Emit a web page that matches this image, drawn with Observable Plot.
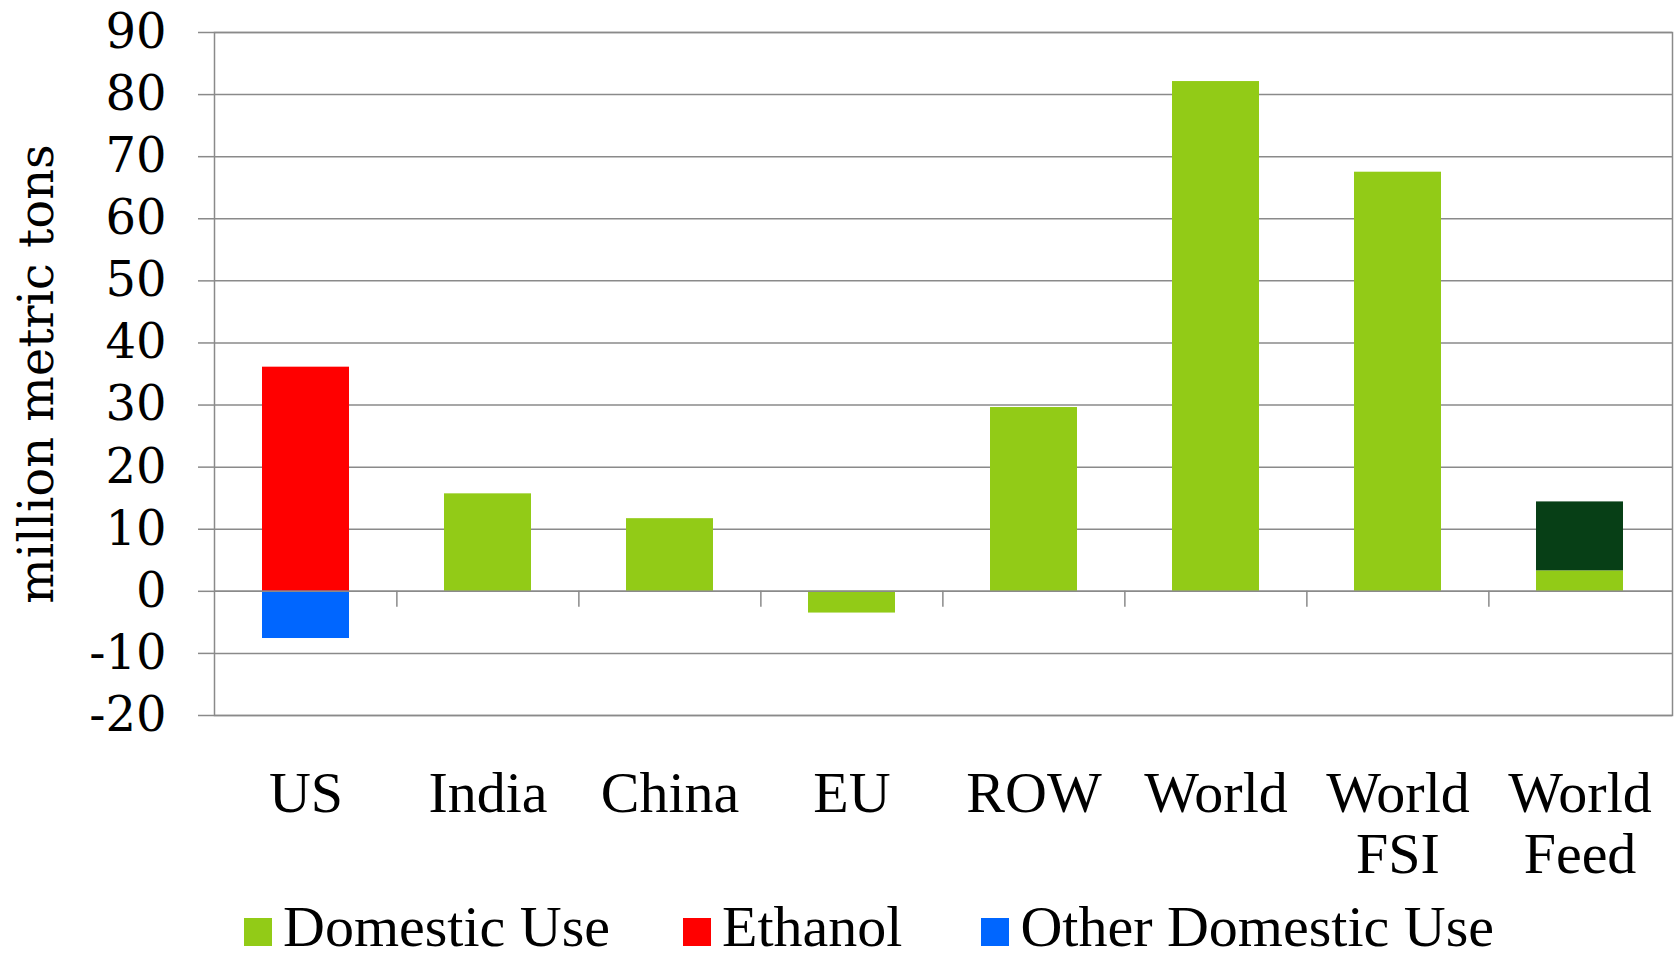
<!DOCTYPE html>
<html>
<head>
<meta charset="utf-8">
<script src="https://cdn.jsdelivr.net/npm/d3@7"></script>
<script src="https://cdn.jsdelivr.net/npm/@observablehq/plot@0.6"></script>
<style>
  html, body { margin: 0; padding: 0; background: #fff; overflow: hidden; }
  #chart { width: 1677px; height: 954px; position: relative; overflow: hidden; }
  .legend {
    display: flex; align-items: baseline;
    font-family: "Liberation Serif", serif; font-size: 58px; line-height: 58px;
    padding-left: 244px; white-space: nowrap; color: #000;
  }
  .legend .item { display: flex; align-items: baseline; margin-right: 73px; }
  .legend .item:nth-child(2) { margin-right: 79px; }
  .legend .sw { display: inline-block; width: 28px; height: 28px; margin-right: 11px; }
</style>
</head>
<body>
<div id="chart"></div>
<script>
// Regions / aggregates along the x axis
const categories = ["US", "India", "China", "EU", "ROW", "World", "World FSI", "World Feed"];

// Change in use, million metric tons (null = no bar)
const domesticUse      = [null, 15.7, 11.7, -3.5, 29.6, 82.1, 67.5, 3.3];
const ethanol          = [36.1, null, null, null, null, null, null, null];
const otherDomesticUse = [-7.6, null, null, null, null, null, null, null];
const feedUse          = [null, null, null, null, null, null, null, 11.1];

const seriesNames  = ["Domestic Use", "Ethanol", "Other Domestic Use", "Feed"];
const seriesValues = [domesticUse, ethanol, otherDomesticUse, feedUse];
const seriesColors = ["#92cb17", "#ff0000", "#0066ff", "#073f16"];
const legendNames  = ["Domestic Use", "Ethanol", "Other Domestic Use"];

const yTicks = [-20, -10, 0, 10, 20, 30, 40, 50, 60, 70, 80, 90];

// Long table for the stacked bars
const rows = seriesNames.flatMap((name, s) =>
  categories.map((cat, i) => ({category: cat, series: name, value: seriesValues[s][i]}))
).filter(d => d.value != null);

const W = 1677, H = 898;
const marginLeft = 214, marginRight = 5, marginTop = 32, marginBottom = 183;
const step = (W - marginLeft - marginRight) / categories.length;
const gray = "#8a8a8a";

const chart = Plot.plot({
  width: W,
  height: H,
  marginLeft, marginRight, marginTop, marginBottom,
  style: {fontFamily: "'DejaVu Serif', serif", fontSize: "48px", color: "#000", background: "#fff"},
  x: {domain: categories, paddingInner: 0.52, paddingOuter: 0.26},
  y: {domain: [-20, 90]},
  color: {domain: seriesNames, range: seriesColors},
  marks: [
    Plot.gridY(yTicks, {stroke: gray, strokeOpacity: 1, strokeWidth: 1.5}),
    Plot.barY(rows, {x: "category", y: "value", fill: "series"}),
    Plot.ruleY([0], {stroke: gray, strokeWidth: 1.5}),
    // category separators hanging below the zero line
    Plot.ruleX(categories.slice(1), {x: d => d, y1: 0, y2: 0, dx: -step / 2, insetBottom: -16, stroke: gray, strokeWidth: 1.5}),
    Plot.axisY(yTicks, {
      tickSize: 16, tickPadding: 32, stroke: gray, strokeWidth: 1.5,
      tickFormat: d => String(d),
      fontSize: 48, fontFamily: "DejaVu Serif",
      label: "million metric tons", labelAnchor: "center", labelArrow: "none", labelOffset: 196
    }),
    Plot.axisX({
      tickSize: 0, tickPadding: 54,
      tickFormat: d => d.replace(" ", "\n"),
      fontSize: 58, fontFamily: "Liberation Serif", lineHeight: 1.04,
      label: null
    }),
    Plot.frame({stroke: gray, strokeWidth: 1.5})
  ]
});

const root = document.getElementById("chart");
root.appendChild(chart);

// Legend below the plot
const legend = document.createElement("div");
legend.className = "legend";
legendNames.forEach(name => {
  const item = document.createElement("span");
  item.className = "item";
  const sw = document.createElement("span");
  sw.className = "sw";
  sw.style.background = seriesColors[seriesNames.indexOf(name)];
  const label = document.createElement("span");
  label.textContent = name;
  item.appendChild(sw);
  item.appendChild(label);
  legend.appendChild(item);
});
root.appendChild(legend);
</script>
</body>
</html>
